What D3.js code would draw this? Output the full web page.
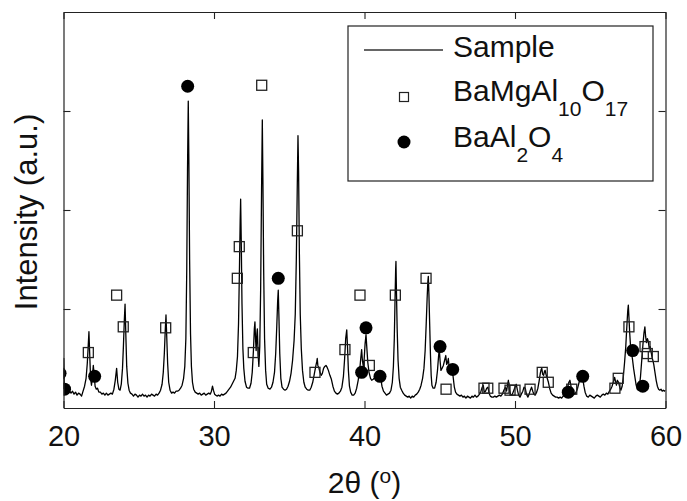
<!DOCTYPE html>
<html>
<head>
<meta charset="utf-8">
<script src="https://cdn.jsdelivr.net/npm/d3@7"></script>
<style>
  html, body { margin: 0; padding: 0; background: #fff; }
  svg text { font-family: "Liberation Sans", Arial, sans-serif; fill: #111; }
</style>
</head>
<body>
<div id="chart"></div>
<script>
// ============================================================================
// data
// ============================================================================

// XRD pattern: [2theta, intensity a.u.]
const sample = [
  [20.00,0.19],[20.02,0.50],[20.05,0.20],[20.12,0.17],[20.2,0.18],[20.3,0.16],[20.4,0.17],[20.5,0.15],
  [20.6,0.17],[20.7,0.14],[20.8,0.16],[20.9,0.13],[21.0,0.15],[21.1,0.14],[21.2,0.12],[21.28,0.16],
  [21.4,0.22],[21.5,0.30],[21.58,0.45],[21.64,0.62],[21.69,0.77],[21.74,0.55],[21.8,0.30],[21.86,0.23],
  [21.92,0.32],[21.98,0.43],[22.04,0.33],[22.1,0.22],[22.18,0.19],[22.26,0.20],[22.35,0.16],[22.45,0.16],
  [22.55,0.14],[22.65,0.15],[22.75,0.13],[22.85,0.15],[22.95,0.13],[23.05,0.14],[23.15,0.15],[23.25,0.14],
  [23.35,0.19],[23.44,0.28],[23.53,0.40],[23.6,0.26],[23.68,0.19],[23.76,0.18],[23.84,0.24],[23.92,0.40],
  [23.98,0.62],[24.04,0.88],[24.09,1.05],[24.14,0.75],[24.2,0.42],[24.28,0.25],[24.36,0.18],[24.45,0.15],
  [24.55,0.14],[24.65,0.12],[24.75,0.14],[24.85,0.13],[24.95,0.11],[25.05,0.13],[25.15,0.12],[25.25,0.14],
  [25.35,0.12],[25.45,0.13],[25.55,0.11],[25.65,0.13],[25.75,0.12],[25.85,0.14],[25.95,0.13],[26.05,0.12],
  [26.15,0.14],[26.25,0.13],[26.35,0.15],[26.45,0.18],[26.55,0.24],[26.63,0.36],[26.7,0.55],[26.76,0.78],
  [26.81,0.94],[26.86,0.72],[26.92,0.45],[26.99,0.26],[27.08,0.18],[27.18,0.15],[27.28,0.16],[27.38,0.15],
  [27.48,0.17],[27.58,0.17],[27.68,0.18],[27.78,0.20],[27.88,0.23],[27.98,0.30],[28.06,0.42],[28.13,0.7],
  [28.19,1.4],[28.24,2.4],[28.29,3.10],[28.33,2.5],[28.38,1.5],[28.44,0.75],[28.5,0.42],[28.57,0.26],
  [28.65,0.19],[28.75,0.16],[28.85,0.15],[28.95,0.14],[29.05,0.15],[29.15,0.13],[29.25,0.14],[29.35,0.15],
  [29.45,0.13],[29.55,0.14],[29.65,0.15],[29.75,0.14],[29.83,0.17],[29.9,0.22],[29.96,0.18],[30.04,0.14],
  [30.12,0.13],[30.2,0.12],[30.3,0.13],[30.4,0.12],[30.5,0.14],[30.6,0.13],[30.7,0.14],[30.8,0.15],
  [30.9,0.17],[31.0,0.19],[31.1,0.21],[31.2,0.24],[31.3,0.27],[31.4,0.30],[31.48,0.38],[31.56,0.52],
  [31.63,0.85],[31.69,1.4],[31.74,1.9],[31.77,2.11],[31.81,1.7],[31.86,1.05],[31.92,0.6],[31.98,0.40],
  [32.06,0.27],[32.16,0.21],[32.26,0.20],[32.36,0.20],[32.46,0.25],[32.54,0.36],[32.62,0.58],[32.68,0.80],
  [32.72,0.87],[32.76,0.70],[32.8,0.58],[32.85,0.75],[32.88,0.80],[32.93,0.55],[32.98,0.42],[33.04,0.62],
  [33.1,1.2],[33.16,2.2],[33.21,2.91],[33.25,2.3],[33.3,1.4],[33.36,0.7],[33.43,0.38],[33.5,0.24],
  [33.6,0.20],[33.72,0.19],[33.82,0.21],[33.92,0.26],[34.02,0.36],[34.1,0.55],[34.17,0.82],[34.23,1.08],
  [34.27,1.19],[34.31,0.95],[34.37,0.55],[34.44,0.30],[34.52,0.21],[34.62,0.19],[34.72,0.18],[34.82,0.19],
  [34.92,0.22],[35.02,0.27],[35.12,0.35],[35.22,0.48],[35.32,0.68],[35.4,0.95],[35.47,1.5],[35.53,2.2],
  [35.58,2.75],[35.62,2.4],[35.67,1.6],[35.73,0.95],[35.8,0.6],[35.88,0.38],[35.97,0.26],[36.06,0.21],
  [36.16,0.19],[36.26,0.18],[36.36,0.18],[36.46,0.21],[36.56,0.26],[36.66,0.34],[36.76,0.42],[36.83,0.47],
  [36.86,0.50],[36.9,0.43],[36.96,0.41],[37.04,0.36],[37.12,0.33],[37.2,0.35],[37.28,0.40],[37.36,0.42],
  [37.44,0.43],[37.52,0.41],[37.6,0.38],[37.7,0.33],[37.8,0.29],[37.9,0.22],[38.0,0.17],[38.1,0.15],
  [38.2,0.14],[38.3,0.15],[38.4,0.17],[38.5,0.21],[38.6,0.32],[38.68,0.50],[38.75,0.70],[38.82,0.79],
  [38.87,0.62],[38.93,0.38],[39.0,0.22],[39.08,0.16],[39.18,0.13],[39.28,0.13],[39.38,0.15],[39.48,0.20],
  [39.58,0.28],[39.68,0.38],[39.75,0.50],[39.81,0.59],[39.86,0.48],[39.92,0.42],[39.98,0.50],[40.04,0.65],
  [40.1,0.74],[40.15,0.62],[40.22,0.46],[40.3,0.36],[40.4,0.30],[40.48,0.28],[40.58,0.29],[40.7,0.31],
  [40.82,0.33],[40.92,0.36],[41.0,0.37],[41.08,0.30],[41.16,0.22],[41.26,0.17],[41.36,0.15],[41.46,0.13],
  [41.56,0.14],[41.66,0.15],[41.76,0.18],[41.85,0.26],[41.92,0.42],[41.98,0.7],[42.03,1.1],[42.07,1.4],
  [42.09,1.48],[42.12,1.2],[42.17,0.8],[42.23,0.48],[42.3,0.30],[42.38,0.21],[42.47,0.18],[42.57,0.15],
  [42.67,0.13],[42.77,0.12],[42.87,0.11],[42.97,0.12],[43.07,0.10],[43.17,0.12],[43.27,0.11],[43.37,0.13],
  [43.47,0.14],[43.57,0.16],[43.67,0.19],[43.76,0.23],[43.86,0.30],[43.95,0.40],[44.03,0.58],[44.1,0.85],
  [44.16,1.1],[44.21,1.28],[44.24,1.33],[44.28,1.15],[44.33,0.85],[44.38,0.55],[44.43,0.33],[44.48,0.23],
  [44.56,0.20],[44.66,0.20],[44.76,0.26],[44.85,0.38],[44.92,0.52],[44.97,0.60],[45.02,0.48],[45.08,0.38],
  [45.15,0.40],[45.24,0.43],[45.32,0.48],[45.4,0.53],[45.46,0.44],[45.52,0.46],[45.57,0.50],[45.62,0.42],
  [45.68,0.38],[45.76,0.42],[45.83,0.40],[45.9,0.30],[45.97,0.21],[46.05,0.16],[46.14,0.14],[46.24,0.13],
  [46.34,0.12],[46.44,0.13],[46.54,0.11],[46.64,0.12],[46.74,0.10],[46.84,0.12],[46.94,0.11],[47.04,0.10],
  [47.14,0.12],[47.24,0.11],[47.34,0.13],[47.44,0.11],[47.54,0.12],[47.64,0.14],[47.74,0.17],[47.82,0.21],
  [47.89,0.23],[47.96,0.16],[48.04,0.17],[48.12,0.20],[48.2,0.21],[48.28,0.15],[48.36,0.12],[48.46,0.11],
  [48.56,0.11],[48.66,0.12],[48.76,0.11],[48.86,0.12],[48.96,0.13],[49.06,0.12],[49.16,0.14],[49.26,0.18],
  [49.36,0.21],[49.44,0.17],[49.5,0.23],[49.56,0.28],[49.62,0.19],[49.7,0.14],[49.8,0.13],[49.9,0.17],
  [50.0,0.21],[50.08,0.24],[50.16,0.18],[50.24,0.13],[50.33,0.11],[50.42,0.14],[50.52,0.17],[50.6,0.21],
  [50.68,0.20],[50.76,0.14],[50.86,0.11],[50.94,0.14],[51.02,0.18],[51.1,0.21],[51.18,0.17],[51.26,0.14],
  [51.34,0.13],[51.44,0.16],[51.52,0.20],[51.6,0.27],[51.68,0.35],[51.74,0.39],[51.78,0.40],[51.84,0.34],
  [51.9,0.33],[51.96,0.37],[52.0,0.38],[52.06,0.34],[52.14,0.30],[52.22,0.26],[52.3,0.20],[52.4,0.15],
  [52.5,0.13],[52.6,0.12],[52.7,0.11],[52.8,0.11],[52.9,0.10],[53.0,0.11],[53.1,0.10],[53.2,0.12],
  [53.3,0.13],[53.4,0.16],[53.5,0.21],[53.58,0.26],[53.65,0.28],[53.72,0.22],[53.8,0.18],[53.9,0.15],
  [53.98,0.14],[54.06,0.16],[54.16,0.20],[54.26,0.26],[54.35,0.31],[54.43,0.33],[54.5,0.30],[54.58,0.22],
  [54.66,0.16],[54.76,0.12],[54.87,0.11],[54.97,0.13],[55.07,0.12],[55.17,0.11],[55.27,0.10],[55.37,0.12],
  [55.47,0.13],[55.57,0.12],[55.67,0.11],[55.77,0.13],[55.87,0.14],[55.97,0.13],[56.07,0.15],[56.17,0.14],
  [56.27,0.17],[56.36,0.19],[56.45,0.22],[56.55,0.27],[56.62,0.31],[56.68,0.27],[56.74,0.23],[56.8,0.28],
  [56.88,0.26],[56.96,0.21],[57.04,0.18],[57.12,0.22],[57.2,0.32],[57.28,0.46],[57.36,0.62],[57.43,0.82],
  [57.49,0.98],[57.53,1.04],[57.57,0.92],[57.62,0.76],[57.68,0.62],[57.74,0.55],[57.8,0.50],[57.88,0.40],
  [57.96,0.32],[58.04,0.24],[58.12,0.19],[58.2,0.18],[58.27,0.22],[58.34,0.32],[58.42,0.48],[58.5,0.64],
  [58.57,0.76],[58.63,0.82],[58.68,0.72],[58.74,0.66],[58.8,0.70],[58.86,0.67],[58.92,0.60],[58.98,0.62],
  [59.04,0.57],[59.1,0.52],[59.16,0.48],[59.22,0.44],[59.3,0.36],[59.38,0.28],[59.46,0.22],[59.54,0.19],
  [59.62,0.18],[59.7,0.19],[59.78,0.17],[59.86,0.18],[59.94,0.17],[60.0,0.18]
];

// BaMgAl10O17 reflections (open squares)
const bamTheta = [21.65,23.53,23.97,26.79,31.55,31.68,32.61,33.17,35.54,36.71,38.70,39.70,40.32,42.05,44.09,
                  45.42,47.94,48.19,49.27,49.67,50.0,51.0,51.81,52.21,53.77,56.64,56.86,57.57,58.64,58.79,59.19];
const bamInt   = [0.56,1.14,0.82,0.81,1.31,1.63,0.56,3.26,1.79,0.36,0.59,1.14,0.43,1.14,1.31,
                  0.19,0.20,0.20,0.20,0.18,0.18,0.19,0.36,0.26,0.19,0.20,0.30,0.82,0.62,0.55,0.52];

// BaAl2O4 reflections (filled circles)
const baoTheta = [19.77,20.07,22.07,28.25,34.27,39.81,40.10,41.03,45.02,45.86,53.54,54.50,57.82,58.49];
const baoInt   = [0.35,0.19,0.32,3.25,1.31,0.36,0.81,0.32,0.62,0.39,0.16,0.32,0.58,0.22];

const xTicks = [20, 30, 40, 50, 60];
const yTicks = [1, 2, 3];

// ============================================================================
// drawing
// ============================================================================

const width = 687, height = 501;
const margin = { left: 63.5, right: 21.5, top: 12, bottom: 93 };

const svg = d3.select("#chart").append("svg")
    .attr("width", width)
    .attr("height", height);

const x = d3.scaleLinear().domain([20, 60]).range([margin.left, width - margin.right]);
const y = d3.scaleLinear().domain([0, 4]).range([height - margin.bottom, margin.top]);

svg.append("clipPath").attr("id", "plot-clip")
  .append("rect")
    .attr("x", x(20)).attr("y", y(4))
    .attr("width", x(60) - x(20)).attr("height", y(0) - y(4));

const plot = svg.append("g").attr("clip-path", "url(#plot-clip)");

// pattern line
const line = d3.line().x(d => x(d[0])).y(d => y(d[1]));
plot.append("path")
    .datum(sample)
    .attr("fill", "none")
    .attr("stroke", "#000")
    .attr("stroke-width", 1.3)
    .attr("stroke-linejoin", "round")
    .attr("d", line);

// open squares
const sq = 10;
plot.append("g")
  .selectAll("rect")
  .data(d3.zip(bamTheta, bamInt))
  .join("rect")
    .attr("x", d => x(d[0]) - sq / 2)
    .attr("y", d => y(d[1]) - sq / 2)
    .attr("width", sq).attr("height", sq)
    .attr("fill", "none")
    .attr("stroke", "#222")
    .attr("stroke-width", 1.3);

// filled circles
plot.append("g")
  .selectAll("circle")
  .data(d3.zip(baoTheta, baoInt))
  .join("circle")
    .attr("cx", d => x(d[0]))
    .attr("cy", d => y(d[1]))
    .attr("r", 6.5)
    .attr("fill", "#000");

// axes: ticks point inward on all four sides
const tickLen = 7;
function styleAxis(g) {
  g.selectAll(".domain").attr("stroke", "#222").attr("stroke-width", 1.2);
  g.selectAll(".tick line").attr("stroke", "#222").attr("stroke-width", 1.1);
}

svg.append("g")
    .attr("transform", `translate(0,${y(0)})`)
    .call(d3.axisBottom(x).tickValues(xTicks).tickSizeInner(-tickLen).tickSizeOuter(0).tickPadding(17))
    .call(styleAxis)
    .call(g => g.selectAll(".tick text")
        .attr("font-size", 29)
        .attr("font-family", "Liberation Sans, Arial, sans-serif")
        .attr("fill", "#111"));

svg.append("g")
    .attr("transform", `translate(0,${y(4)})`)
    .call(d3.axisTop(x).tickValues(xTicks).tickSizeInner(-tickLen).tickSizeOuter(0).tickFormat(""))
    .call(styleAxis);

svg.append("g")
    .attr("transform", `translate(${x(20)},0)`)
    .call(d3.axisLeft(y).tickValues(yTicks).tickSizeInner(-tickLen).tickSizeOuter(0).tickFormat(""))
    .call(styleAxis);

svg.append("g")
    .attr("transform", `translate(${x(60)},0)`)
    .call(d3.axisRight(y).tickValues(yTicks).tickSizeInner(-tickLen).tickSizeOuter(0).tickFormat(""))
    .call(styleAxis);

// axis titles
const xTitle = svg.append("text")
    .attr("x", (x(20) + x(60)) / 2)
    .attr("y", 493)
    .attr("text-anchor", "middle")
    .attr("font-size", 30);
xTitle.append("tspan").text("2\u03b8 (");
xTitle.append("tspan").attr("dy", -10).attr("font-size", 21).text("o");
xTitle.append("tspan").attr("dy", 10).text(")");

svg.append("text")
    .attr("transform", `translate(37,${(y(0) + y(4)) / 2 + 2}) rotate(-90)`)
    .attr("text-anchor", "middle")
    .attr("font-size", 31)
    .text("Intensity (a.u.)");

// ============================================================================
// legend
// ============================================================================

const legend = svg.append("g");
legend.append("rect")
    .attr("x", 348).attr("y", 26)
    .attr("width", 305).attr("height", 155)
    .attr("fill", "#fff")
    .attr("stroke", "#222")
    .attr("stroke-width", 1.2);

legend.append("line")
    .attr("x1", 364).attr("x2", 443)
    .attr("y1", 50).attr("y2", 50)
    .attr("stroke", "#333").attr("stroke-width", 1.3);
legend.append("text")
    .attr("x", 453).attr("y", 57)
    .attr("font-size", 30)
    .text("Sample");

legend.append("rect")
    .attr("x", 404 - 4.5).attr("y", 97 - 4.5)
    .attr("width", 9).attr("height", 9)
    .attr("fill", "none").attr("stroke", "#222").attr("stroke-width", 1.2);

function chemLabel(yBase, parts) {
  const t = legend.append("text").attr("x", 453).attr("y", yBase).attr("font-size", 30);
  let shifted = false;
  parts.forEach(p => {
    const sub = typeof p === "object";
    const ts = t.append("tspan").text(sub ? p.sub : p);
    if (sub && !shifted) { ts.attr("dy", 15).attr("font-size", 21); shifted = true; }
    else if (!sub && shifted) { ts.attr("dy", -15); shifted = false; }
    else if (sub) ts.attr("font-size", 21);
  });
}
chemLabel(101, ["BaMgAl", { sub: "10" }, "O", { sub: "17" }]);

legend.append("circle")
    .attr("cx", 404).attr("cy", 142).attr("r", 6.5)
    .attr("fill", "#000");
chemLabel(147, ["BaAl", { sub: "2" }, "O", { sub: "4" }]);
</script>
</body>
</html>
